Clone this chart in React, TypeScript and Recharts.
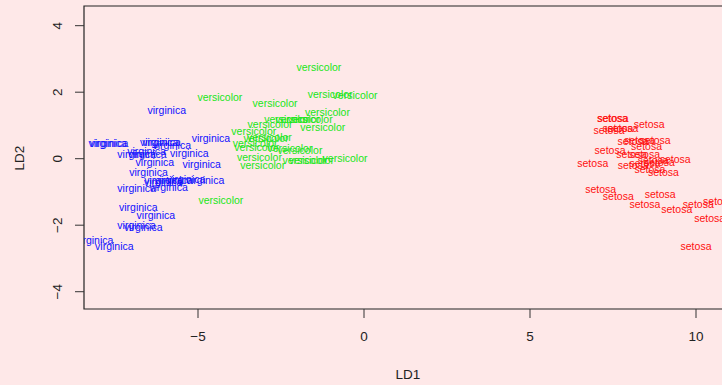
import React from 'react';
import { ScatterChart, Scatter, XAxis, YAxis, ReferenceArea } from 'recharts';

const speciesNames = ['setosa', 'versicolor', 'virginica'];

const setosaLD1 = [7.48, 7.5, 7.38, 7.65, 7.8, 8.59, 8.1, 8.3, 8.77, 8.51, 7.41, 8.06, 8.45, 6.89, 8.11, 8.46, 8.71, 8.9, 9.37, 8.61, 9.02, 7.13, 7.66, 8.92, 8.46, 9.42, 10.07, 10.68, 10.41, 10.0];
const setosaLD2 = [1.19, 1.2, 0.85, 0.9, 0.91, 1.01, 0.5, 0.54, 0.55, 0.36, 0.24, 0.11, 0.13, -0.16, -0.21, -0.14, -0.07, -0.12, -0.04, -0.34, -0.42, -0.92, -1.14, -1.07, -1.37, -1.52, -1.37, -1.29, -1.79, -2.63];

const versicolorLD1 = [-1.36, -4.34, -2.68, -1.02, -0.27, -1.1, -2.33, -2.0, -1.62, -2.83, -1.24, -3.32, -2.85, -2.95, -3.28, -3.23, -2.23, -1.93, -3.15, -1.78, -1.58, -0.57, -3.05, -4.31];
const versicolorLD2 = [2.74, 1.85, 1.67, 1.92, 1.89, 1.4, 1.18, 1.18, 1.18, 1.01, 0.92, 0.81, 0.64, 0.6, 0.46, 0.33, 0.31, 0.24, 0.04, -0.07, -0.05, 0.01, -0.22, -1.27];

const virginicaLD1 = [-5.94, -7.72, -7.68, -6.17, -6.1, -5.79, -4.61, -6.85, -6.53, -6.55, -5.26, -6.3, -4.89, -6.49, -6.04, -5.74, -5.36, -4.79, -6.05, -6.85, -5.89, -6.8, -6.27, -6.85, -6.65, -8.13, -7.52];
const virginicaLD2 = [1.46, 0.46, 0.44, 0.49, 0.47, 0.4, 0.6, 0.13, 0.11, 0.2, 0.16, -0.11, -0.17, -0.42, -0.65, -0.65, -0.64, -0.65, -0.72, -0.9, -0.87, -1.46, -1.71, -2.0, -2.07, -2.47, -2.63];

const xTicks = [-5, 0, 5, 10];
const yTicks = [-4, -2, 0, 2, 4];
const xDomain = [-8.434, 11.084];
const yDomain = [-4.52, 4.592];

const toPoints = (xs: number[], ys: number[]) => xs.map((x, i) => ({ x, y: ys[i] }));
const setosa = toPoints(setosaLD1, setosaLD2);
const versicolor = toPoints(versicolorLD1, versicolorLD2);
const virginica = toPoints(virginicaLD1, virginicaLD2);

const FONT = '"Liberation Sans", Arial, Helvetica, sans-serif';
const fmt = (v: number) => (v < 0 ? `\u2212${-v}` : `${v}`);

const makeLabel = (label: string, color: string) => (props: any) => (
  <text
    x={props.cx}
    y={props.cy}
    dy="0.32em"
    textAnchor="middle"
    fill={color}
    fontSize={10.5}
    fontFamily={FONT}
  >
    {label}
  </text>
);

const YTick = (props: any) => {
  const { x, y, payload } = props;
  return (
    <text
      x={x}
      y={y}
      transform={`rotate(-90 ${x} ${y})`}
      textAnchor="middle"
      fontSize={13.5}
      fontFamily={FONT}
      fill="#222"
    >
      {fmt(payload.value)}
    </text>
  );
};

export default function App() {
  return (
    <div
      style={{
        position: 'absolute',
        left: 0,
        top: 0,
        width: 722,
        height: 385,
        overflow: 'hidden',
        background: '#FEE8E8',
      }}
    >
      <ScatterChart width={732} height={385} margin={{ top: 6, right: 0, bottom: 0, left: 0 }}>
        <XAxis
          type="number"
          dataKey="x"
          domain={xDomain}
          allowDataOverflow
          ticks={xTicks}
          tickFormatter={fmt}
          height={76}
          axisLine={false}
          tickSize={9}
          tickMargin={13}
          tickLine={{ stroke: '#333' }}
          tick={{ fontSize: 13.5, fontFamily: FONT, fill: '#222' }}
          label={() => (
            <text x={408} y={379} textAnchor="middle" fontSize={13.5} fontFamily={FONT} fill="#222">
              LD1
            </text>
          )}
        />
        <YAxis
          type="number"
          dataKey="y"
          domain={yDomain}
          allowDataOverflow
          ticks={yTicks}
          width={84}
          axisLine={false}
          tickSize={9}
          tickMargin={13}
          tickLine={{ stroke: '#333' }}
          tick={<YTick />}
          label={() => (
            <text
              x={24}
              y={158}
              transform="rotate(-90 24 158)"
              textAnchor="middle"
              fontSize={13.5}
              fontFamily={FONT}
              fill="#222"
            >
              LD2
            </text>
          )}
        />
        <ReferenceArea
          x1={xDomain[0]}
          x2={xDomain[1]}
          y1={yDomain[0]}
          y2={yDomain[1]}
          fill="none"
          stroke="#222"
          strokeWidth={1.2}
          ifOverflow="visible"
        />
        <Scatter data={setosa} isAnimationActive={false} shape={makeLabel(speciesNames[0], '#FF1010')} />
        <Scatter data={versicolor} isAnimationActive={false} shape={makeLabel(speciesNames[1], '#18E618')} />
        <Scatter data={virginica} isAnimationActive={false} shape={makeLabel(speciesNames[2], '#1010FF')} />
      </ScatterChart>
    </div>
  );
}
